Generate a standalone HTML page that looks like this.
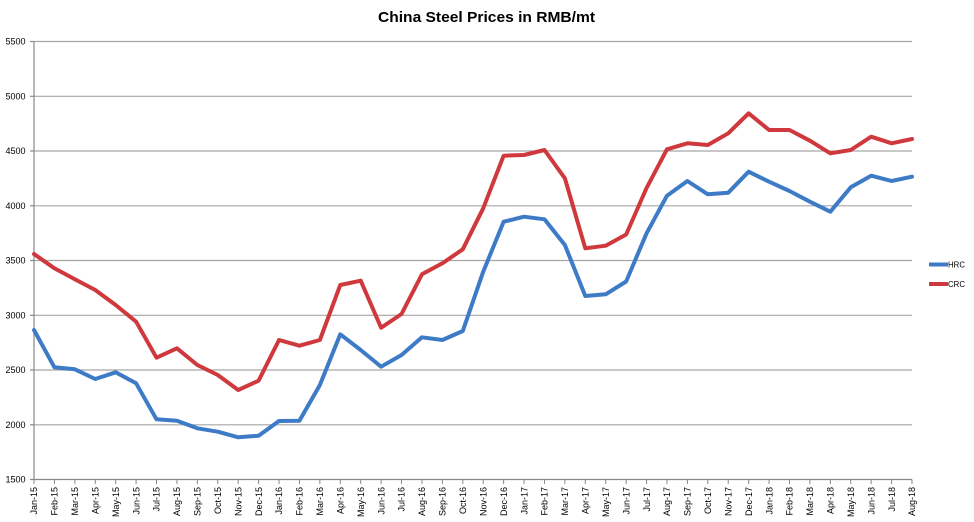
<!DOCTYPE html>
<html><head><meta charset="utf-8"><style>
html,body{margin:0;padding:0;background:#fff;}
svg{display:block;}
text{font-family:"Liberation Sans",sans-serif;fill:#000;}
</style></head><body>
<svg width="974" height="522" viewBox="0 0 974 522" xmlns="http://www.w3.org/2000/svg">
<rect width="974" height="522" fill="#fff"/>
<text x="486.5" y="22" font-size="15" font-weight="bold" text-anchor="middle" textLength="217" lengthAdjust="spacingAndGlyphs">China Steel Prices in RMB/mt</text>
<g stroke="#a6a6a6" stroke-width="1.2">
<line x1="34" y1="41.5" x2="912" y2="41.5"/>
<line x1="34" y1="96.3" x2="912" y2="96.3"/>
<line x1="34" y1="151" x2="912" y2="151"/>
<line x1="34" y1="205.8" x2="912" y2="205.8"/>
<line x1="34" y1="260.5" x2="912" y2="260.5"/>
<line x1="34" y1="315.3" x2="912" y2="315.3"/>
<line x1="34" y1="370" x2="912" y2="370"/>
<line x1="34" y1="424.8" x2="912" y2="424.8"/>
</g>
<g stroke="#888" stroke-width="1.2">
<line x1="34" y1="41" x2="34" y2="479.5"/>
<line x1="34" y1="479.5" x2="912" y2="479.5"/>
<line x1="30" y1="41.5" x2="34" y2="41.5"/>
<line x1="30" y1="96.3" x2="34" y2="96.3"/>
<line x1="30" y1="151" x2="34" y2="151"/>
<line x1="30" y1="205.8" x2="34" y2="205.8"/>
<line x1="30" y1="260.5" x2="34" y2="260.5"/>
<line x1="30" y1="315.3" x2="34" y2="315.3"/>
<line x1="30" y1="370" x2="34" y2="370"/>
<line x1="30" y1="424.8" x2="34" y2="424.8"/>
<line x1="30" y1="479.5" x2="34" y2="479.5"/>
</g>
<g font-size="9" text-anchor="end">
<text x="25.5" y="44.5">5500</text>
<text x="25.5" y="99.3">5000</text>
<text x="25.5" y="154">4500</text>
<text x="25.5" y="208.8">4000</text>
<text x="25.5" y="263.5">3500</text>
<text x="25.5" y="318.3">3000</text>
<text x="25.5" y="373">2500</text>
<text x="25.5" y="427.8">2000</text>
<text x="25.5" y="482.5">1500</text>
</g>
<g id="xt" stroke="#888" stroke-width="1"></g>
<g id="xl" font-size="9" text-anchor="end"></g>
<polyline id="hrc" fill="none" stroke="#3d7bc6" stroke-width="4" stroke-linejoin="round" stroke-linecap="round" points=""/>
<polyline id="crc" fill="none" stroke="#cf393d" stroke-width="4" stroke-linejoin="round" stroke-linecap="round" points=""/>
<line x1="929" y1="264.5" x2="948" y2="264.5" stroke="#3d7bc6" stroke-width="4"/>
<line x1="929" y1="284" x2="948" y2="284" stroke="#cf393d" stroke-width="4"/>
<text x="948" y="267.5" font-size="8.5" textLength="17" lengthAdjust="spacingAndGlyphs">HRC</text>
<text x="948" y="287" font-size="8.5" textLength="17" lengthAdjust="spacingAndGlyphs">CRC</text>
</svg>
<script>
(function(){
var NS="http://www.w3.org/2000/svg";
var labels=["Jan-15","Feb-15","Mar-15","Apr-15","May-15","Jun-15","Jul-15","Aug-15","Sep-15","Oct-15","Nov-15","Dec-15",
"Jan-16","Feb-16","Mar-16","Apr-16","May-16","Jun-16","Jul-16","Aug-16","Sep-16","Oct-16","Nov-16","Dec-16",
"Jan-17","Feb-17","Mar-17","Apr-17","May-17","Jun-17","Jul-17","Aug-17","Sep-17","Oct-17","Nov-17","Dec-17",
"Jan-18","Feb-18","Mar-18","Apr-18","May-18","Jun-18","Jul-18","Aug-18"];
var crc=[254,268.3,279.3,290,305,321.7,357.7,348.3,365,375,390,380.7,340,345.7,340,285,280.7,327.7,314,274.3,263.3,249.3,208.3,155.7,155,150,178.3,248.3,245.7,234.5,188,149.3,143.3,145,133.3,113.3,130,130,140.7,153.3,150,136.7,143.3,139];
var hrc=[330,367.3,369.3,379,372.3,383.3,419.3,420.7,428.3,431.7,437.3,435.7,421,420.7,385,334.3,350,366.7,355,337.3,340,331,271.7,221.7,216.7,219.3,245,296,294.3,281.5,233.3,195.7,181,194.3,192.7,171.7,181.7,191,201.7,211.7,187.3,175.7,181,176.7];
var step=878/43;
var xt=document.getElementById("xt"),xl=document.getElementById("xl");
var pc=[],ph=[];
for(var i=0;i<44;i++){
 var x=34+i*step;
 pc.push(x.toFixed(2)+","+crc[i]);
 ph.push(x.toFixed(2)+","+hrc[i]);
 var l=document.createElementNS(NS,"line");
 l.setAttribute("x1",x);l.setAttribute("x2",x);l.setAttribute("y1",479.5);l.setAttribute("y2",484);
 xt.appendChild(l);
 var t=document.createElementNS(NS,"text");
 t.setAttribute("transform","translate("+(x+3.2).toFixed(2)+",487) rotate(-90)");
 t.setAttribute("x",0);t.setAttribute("y",0);
 t.textContent=labels[i];
 xl.appendChild(t);
}
document.getElementById("crc").setAttribute("points",pc.join(" "));
document.getElementById("hrc").setAttribute("points",ph.join(" "));
})();
</script>
</body></html>
